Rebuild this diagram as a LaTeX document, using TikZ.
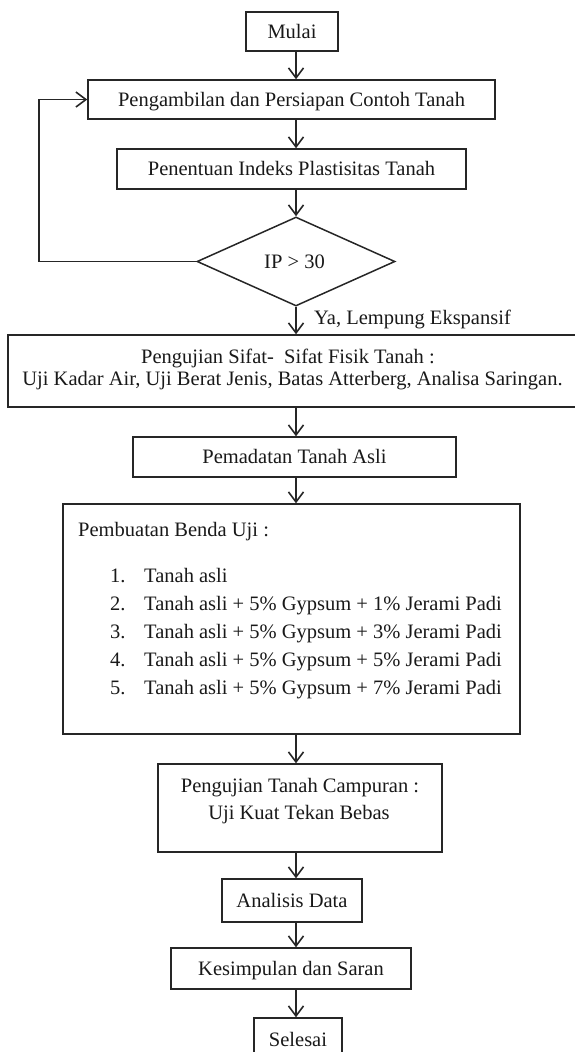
\documentclass[tikz,border=0pt]{standalone}
\usepackage{fontspec}
\setmainfont{Liberation Serif}
\usetikzlibrary{arrows.meta,shapes.geometric}
\begin{document}
\begin{tikzpicture}[x=1pt,y=-1pt,
  box/.style={draw=black!85,line width=1.5pt,inner sep=0pt,text height=13.5pt,text depth=0pt,font=\fontsize{20.5}{24}\selectfont,text=black!90},
  txt/.style={inner sep=0pt,text height=13.5pt,text depth=0pt,font=\fontsize{20.5}{24}\selectfont,text=black!90},
  arr/.style={draw=black!85,line width=1.6pt,-{Straight Barb[length=10pt,width=15pt,line width=1.6pt]}}]
\useasboundingbox (0,0) rectangle (575,1052);
\clip (0,0) rectangle (575,1052);
\coordinate (ax) at (296,0);
\coordinate (lx) at (39,0);
% nodes
\node[box,minimum width=92pt,minimum height=39pt] (m) at (292,31.5) {Mulai};
\node[box,minimum width=407pt,minimum height=39pt] (pa) at (291.5,99.5) {Pengambilan dan Persiapan Contoh Tanah};
\node[box,minimum width=349pt,minimum height=40pt] (pi) at (291.5,169) {Penentuan Indeks Plastisitas Tanah};
\node[box,diamond,minimum width=198pt,minimum height=89pt] (d) at (296,261.5) {};
\node[txt] (dt) at (294.5,262) {IP > 30};
\node[txt,anchor=west] (ya) at (314,318) {Ya, Lempung Ekspansif};
\node[box,minimum width=572pt,minimum height=72pt] (ps) at (294,371) {};
\node[txt] (ps1) at (288,357) {Pengujian Sifat-\ \ Sifat Fisik Tanah :};
\node[txt] (ps2) at (292.5,379) {Uji Kadar Air, Uji Berat Jenis, Batas Atterberg, Analisa Saringan.};
\node[box,minimum width=323pt,minimum height=40pt] (pm) at (294.5,457) {Pemadatan Tanah Asli};
\node[box,minimum width=457pt,minimum height=230pt] (pb) at (291.5,619) {};
\node[txt,anchor=west] (pbt) at (78,530) {Pembuatan Benda Uji :};
\foreach \i/\y/\t in {1/576/{Tanah asli},
                      2/604/{Tanah asli + 5\% Gypsum + 1\% Jerami Padi},
                      3/632/{Tanah asli + 5\% Gypsum + 3\% Jerami Padi},
                      4/660/{Tanah asli + 5\% Gypsum + 5\% Jerami Padi},
                      5/688/{Tanah asli + 5\% Gypsum + 7\% Jerami Padi}}{
  \node[txt,anchor=west] (n\i) at (110,\y) {\i.};
  \node[txt,anchor=west] (t\i) at (144,\y) {\t};
}
\node[box,minimum width=284pt,minimum height=88pt] (pc) at (300,808) {};
\node[txt] (pc1) at (300,786) {Pengujian Tanah Campuran :};
\node[txt] (pc2) at (299,813) {Uji Kuat Tekan Bebas};
\node[box,minimum width=140pt,minimum height=43pt] (an) at (292,900.5) {Analisis Data};
\node[box,minimum width=240pt,minimum height=41pt] (ks) at (291,968.5) {Kesimpulan dan Saran};
\node[box,minimum width=88pt,minimum height=44pt] (sl) at (298,1040) {Selesai};
% connectors
\draw[arr] (m.south -| ax) -- (pa.north -| ax);
\draw[arr] (pa.south -| ax) -- (pi.north -| ax);
\draw[arr] (pi.south -| ax) -- (d.north);
\draw[arr] (d.south) -- (ps.north -| ax);
\draw[arr] (ps.south -| ax) -- (pm.north -| ax);
\draw[arr] (pm.south -| ax) -- (pb.north -| ax);
\draw[arr] (pb.south -| ax) -- (pc.north -| ax);
\draw[arr] (pc.south -| ax) -- (an.north -| ax);
\draw[arr] (an.south -| ax) -- (ks.north -| ax);
\draw[arr] (ks.south -| ax) -- (sl.north -| ax);
\draw[arr] (d.west) -- (d.west -| lx) |- (pa.west);
\end{tikzpicture}
\end{document}
